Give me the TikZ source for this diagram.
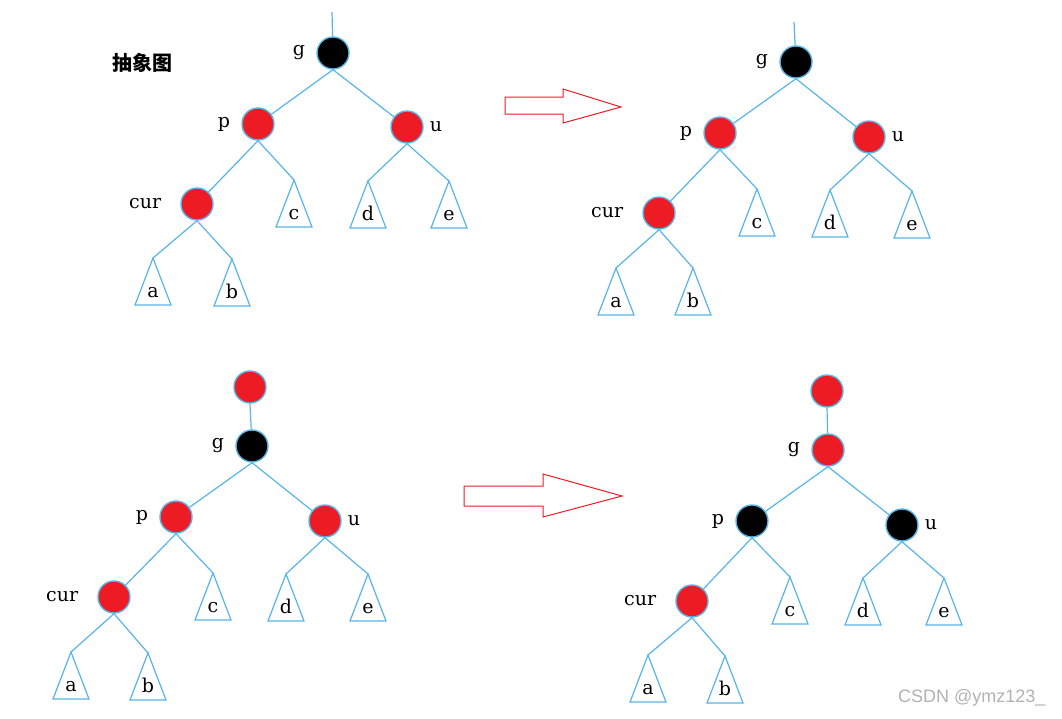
\documentclass[tikz,border=0pt]{standalone}
\usepackage{fontspec}
\setmainfont{DejaVu Serif}
\setsansfont{Liberation Sans}
\newfontfamily\cjk{Noto Sans CJK SC}
\usetikzlibrary{positioning}
\definecolor{lineblue}{RGB}{86,180,232}
\definecolor{nodered}{RGB}{237,28,36}
\definecolor{wmgray}{RGB}{178,178,178}

\begin{document}
\begin{tikzpicture}[x=1pt,y=-1pt,
    ln/.style={lineblue,line width=1.2pt},
    rd/.style={circle,draw=lineblue,line width=1.4pt,fill=nodered,minimum size=32pt,inner sep=0pt},
    bk/.style={rd,fill=black},
    lbl/.style={inner sep=0pt,font=\fontsize{19}{19}\selectfont},
    subt/.pic={\coordinate (-top) at (0,0);
      \draw[ln] (0,0) -- (-18,47) -- (18,47) -- cycle;
      \node[lbl,anchor=base] at (0,39) {#1};},
    bigar/.style={draw=nodered,line width=1pt,fill=white}]
    \useasboundingbox (0,0) rectangle (1062,718);
    \node[font=\cjk\bfseries\fontsize{20}{20}\selectfont] (title) at (142,63) {抽象图};
    % tree 1
    \coordinate (r1) at (332,12);
    \node[bk](g1) at (333,53){};\node[rd](p1) at (258,124){};\node[rd](u1) at (407,127){};
    \node[rd](cur1) at (197,204){};
    \pic (c1) at (294,180) {subt=c};\pic (d1) at (368,181) {subt=d};\pic (e1) at (449,181) {subt=e};
    \pic (a1) at (153,258) {subt=a};\pic (b1) at (232,259) {subt=b};
    \node[lbl,left=11pt of g1]{g};\node[lbl,left=11pt of p1]{p};\node[lbl,right=6pt of u1]{u};\node[lbl,left=19pt of cur1]{cur};
    \draw[ln](r1)--(g1);\draw[ln](g1.south)--(p1);\draw[ln](g1.south)--(u1);\draw[ln](p1.south)--(cur1);
    \draw[ln](p1.south)--(c1-top);\draw[ln](u1.south)--(d1-top);\draw[ln](u1.south)--(e1-top);
    \draw[ln](cur1.south)--(a1-top);\draw[ln](cur1.south)--(b1-top);
    % arrow 1
    \draw[bigar] (505,97) -- (563,97) -- (563,89) -- (621,107) -- (563,123) -- (563,114) -- (505,114) -- cycle;
    % tree 2
    \coordinate (r2) at (794,22);
    \node[bk](g2) at (796,62){};\node[rd](p2) at (720,133){};\node[rd](u2) at (869,137){};
    \node[rd](cur2) at (659,213){};
    \pic (c2) at (757,189) {subt=c};\pic (d2) at (830,190) {subt=d};\pic (e2) at (912,191) {subt=e};
    \pic (a2) at (616,268) {subt=a};\pic (b2) at (693,268) {subt=b};
    \node[lbl,left=11pt of g2]{g};\node[lbl,left=11pt of p2]{p};\node[lbl,right=6pt of u2]{u};\node[lbl,left=19pt of cur2]{cur};
    \draw[ln](r2)--(g2);\draw[ln](g2.south)--(p2);\draw[ln](g2.south)--(u2);\draw[ln](p2.south)--(cur2);
    \draw[ln](p2.south)--(c2-top);\draw[ln](u2.south)--(d2-top);\draw[ln](u2.south)--(e2-top);
    \draw[ln](cur2.south)--(a2-top);\draw[ln](cur2.south)--(b2-top);
    % tree 3
    \node[rd](top3) at (250,387){};
    \node[bk](g3) at (252,446){};\node[rd](p3) at (176,517){};\node[rd](u3) at (325,521){};
    \node[rd](cur3) at (114,597){};
    \pic (c3) at (213,573) {subt=c};\pic (d3) at (286,574) {subt=d};\pic (e3) at (368,574) {subt=e};
    \pic (a3) at (71,652) {subt=a};\pic (b3) at (148,653) {subt=b};
    \node[lbl,left=11pt of g3]{g};\node[lbl,left=11pt of p3]{p};\node[lbl,right=6pt of u3]{u};\node[lbl,left=19pt of cur3]{cur};
    \draw[ln](top3.south)--(g3);\draw[ln](g3.south)--(p3);\draw[ln](g3.south)--(u3);\draw[ln](p3.south)--(cur3);
    \draw[ln](p3.south)--(c3-top);\draw[ln](u3.south)--(d3-top);\draw[ln](u3.south)--(e3-top);
    \draw[ln](cur3.south)--(a3-top);\draw[ln](cur3.south)--(b3-top);
    % arrow 2
    \draw[bigar] (464,486) -- (543,486) -- (543,474) -- (622,496) -- (543,517) -- (543,506) -- (464,506) -- cycle;
    % tree 4
    \node[rd](top4) at (827,391){};
    \node[rd](g4) at (828,450){};\node[bk](p4) at (752,521){};\node[bk](u4) at (902,525){};
    \node[rd](cur4) at (692,601){};
    \pic (c4) at (790,577) {subt=c};\pic (d4) at (863,578) {subt=d};\pic (e4) at (944,578) {subt=e};
    \pic (a4) at (648,655) {subt=a};\pic (b4) at (725,656) {subt=b};
    \node[lbl,left=11pt of g4]{g};\node[lbl,left=11pt of p4]{p};\node[lbl,right=6pt of u4]{u};\node[lbl,left=19pt of cur4]{cur};
    \draw[ln](top4.south)--(g4);\draw[ln](g4.south)--(p4);\draw[ln](g4.south)--(u4);\draw[ln](p4.south)--(cur4);
    \draw[ln](p4.south)--(c4-top);\draw[ln](u4.south)--(d4-top);\draw[ln](u4.south)--(e4-top);
    \draw[ln](cur4.south)--(a4-top);\draw[ln](cur4.south)--(b4-top);
    \node[font=\sffamily\fontsize{18}{18}\selectfont,text=wmgray,anchor=west,inner sep=0pt] (wm) at (898,698) {CSDN @ymz123\_};
  \end{tikzpicture}
\end{document}
